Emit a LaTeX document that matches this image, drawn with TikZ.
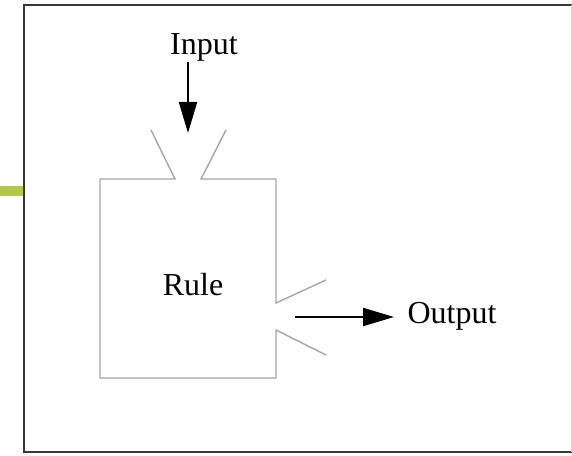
\documentclass[tikz,border=0pt]{standalone}
\usepackage{fontspec}
\setmainfont{Liberation Serif}
\usetikzlibrary{arrows.meta}
\definecolor{framegray}{RGB}{55,55,55}
\definecolor{boxgray}{RGB}{165,165,165}
\definecolor{accent}{RGB}{178,200,72}
\tikzset{
  frameline/.style={draw=framegray, line width=2.4pt},
  ruleline/.style={draw=boxgray, line width=1.4pt, line join=miter},
  flow/.style={draw=black, line width=2.2pt, -{Triangle[length=31pt,width=18pt]}},
  label/.style={font=\fontsize{32}{37}\selectfont, inner sep=0pt, anchor=center}
}
\begin{document}
\begin{tikzpicture}[x=1pt,y=1pt]
  \useasboundingbox (0,0) rectangle (572,455);
  \fill[white] (0,0) rectangle (572,455);
  % side accent bar
  \fill[accent] (0,259) rectangle (23,269);
  % outer frame
  \draw[frameline] (572,450) -- (24,450) -- (24,3) -- (572,3);
  \draw[framegray!20, line width=0.8pt] (571.5,450) -- (571.5,3);
  % rule block with its input and output funnels
  \draw[ruleline] (151,325) -- (175,276) -- (100,276) -- (100,77) -- (276,77)
                  -- (276,125) -- (326,100);
  \draw[ruleline] (226,325) -- (201,276) -- (276,276) -- (276,152) -- (326,175);
  \node[label] (rule) at (193,170) {Rule};
  \node[label] (input) at (204,408) {Input};
  \node[label] (output) at (452,139) {Output};
  \coordinate (inStart) at (188,393);
  \coordinate (inEnd) at (188,322);
  \coordinate (outStart) at (295,138);
  \coordinate (outEnd) at (394,138);
  \draw[flow] (inStart) -- (inEnd);
  \draw[flow] (outStart) -- (outEnd);
\end{tikzpicture}
\end{document}
